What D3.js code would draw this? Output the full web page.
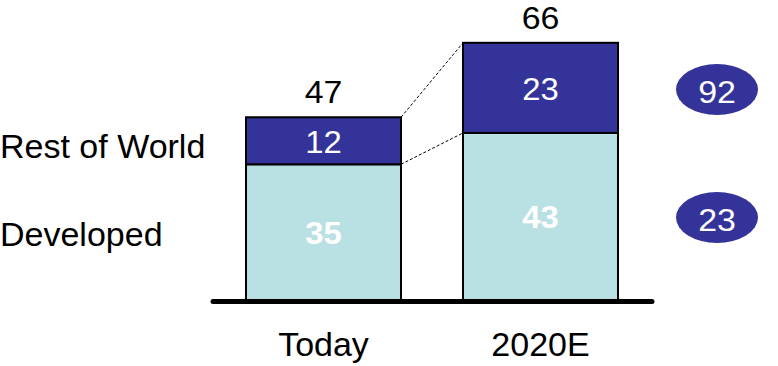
<!DOCTYPE html>
<html><head><meta charset="utf-8">
<script src="https://cdn.jsdelivr.net/npm/d3@7"></script>
<style>html,body{margin:0;padding:0;background:#fff;}svg{display:block;}</style>
</head><body>
<svg id="c" width="778" height="366"></svg>
<script>
const categories = ["Today", "2020E"];
const developed = [35, 43];
const restOfWorld = [12, 23];
const totals = [47, 66];
const seriesNames = ["Developed", "Rest of World"];
const growthLabels = [92, 23]; // top (Rest of World), bottom (Developed)

const svg = d3.select("#c");
const font = "Liberation Sans, Arial, sans-serif";
const dark = "#333399", light = "#B9E0E3";
const SX = 1.06; // slight horizontal stretch of number labels

const x = d3.scaleBand().domain(categories).range([246, 618]).paddingInner(0.2857).paddingOuter(0);
const y = d3.scaleLinear().domain([0, 66]).range([301.5, 42.8]);

const data = categories.map((c, i) => ({c, dev: developed[i], row: restOfWorld[i], tot: totals[i]}));
const bw = x.bandwidth();

function stretchedText(parent, cx, by, txt, size, weight, fill) {
  parent.append("text")
    .attr("transform", `translate(${cx},${by}) scale(${SX},1)`)
    .attr("text-anchor", "middle").attr("font-family", font).attr("font-size", size)
    .attr("font-weight", weight).attr("fill", fill).text(txt);
}

// dashed connectors
svg.append("line").attr("x1", x(categories[0]) + bw).attr("y1", y(data[0].dev + data[0].row))
  .attr("x2", x(categories[1])).attr("y2", y(data[1].dev + data[1].row))
  .attr("stroke", "#000").attr("stroke-width", 1).attr("stroke-dasharray", "3,2");
svg.append("line").attr("x1", x(categories[0]) + bw).attr("y1", y(data[0].dev))
  .attr("x2", x(categories[1])).attr("y2", y(data[1].dev))
  .attr("stroke", "#000").attr("stroke-width", 1).attr("stroke-dasharray", "3,2");

// bars
const g = svg.append("g");
g.selectAll("rect.dev").data(data).join("rect").attr("class", "dev")
  .attr("x", d => x(d.c)).attr("width", bw)
  .attr("y", d => y(d.dev)).attr("height", d => y(0) - y(d.dev))
  .attr("fill", light).attr("stroke", "#000").attr("stroke-width", 2);
g.selectAll("rect.row").data(data).join("rect").attr("class", "row")
  .attr("x", d => x(d.c)).attr("width", bw)
  .attr("y", d => y(d.dev + d.row)).attr("height", d => y(d.dev) - y(d.dev + d.row))
  .attr("fill", dark).attr("stroke", "#000").attr("stroke-width", 2);

// baseline
svg.append("line").attr("x1", 213).attr("x2", 652).attr("y1", y(0)).attr("y2", y(0))
  .attr("stroke", "#000").attr("stroke-width", 5).attr("stroke-linecap", "round");

// inside labels and totals
data.forEach(d => {
  const cx = x(d.c) + bw / 2;
  stretchedText(g, cx, (y(d.dev) + y(0)) / 2 + 11, d.dev, 31, "bold", "#fff");
  stretchedText(g, cx, (y(d.dev) + y(d.dev + d.row)) / 2 + 12, d.row, 31, "normal", "#fff");
  stretchedText(g, cx, y(d.tot) - 14, d.tot, 32, "normal", "#000");
});

// category labels
g.selectAll("text.cat").data(categories).join("text")
  .attr("x", d => x(d) + bw / 2).attr("y", 356)
  .attr("text-anchor", "middle").attr("font-family", font).attr("font-size", 34)
  .attr("fill", "#000").text(d => d);

// series labels on the left
const serY = [y(developed[0] / 2) + 13, y(developed[0] + restOfWorld[0] / 2) + 17.5];
svg.selectAll("text.ser").data(seriesNames).join("text")
  .attr("x", 0).attr("y", (d, i) => serY[i])
  .attr("font-family", font).attr("font-size", 34).attr("fill", "#000").text(d => d);

// growth ellipses
const ell = [{v: growthLabels[0], cy: 89.5}, {v: growthLabels[1], cy: 217.5}];
svg.selectAll("ellipse").data(ell).join("ellipse")
  .attr("cx", 717).attr("cy", d => d.cy).attr("rx", 41).attr("ry", 25.5).attr("fill", dark);
ell.forEach(d => stretchedText(svg, 717, d.cy + 13, d.v, 32, "normal", "#fff"));
</script>
</body></html>
